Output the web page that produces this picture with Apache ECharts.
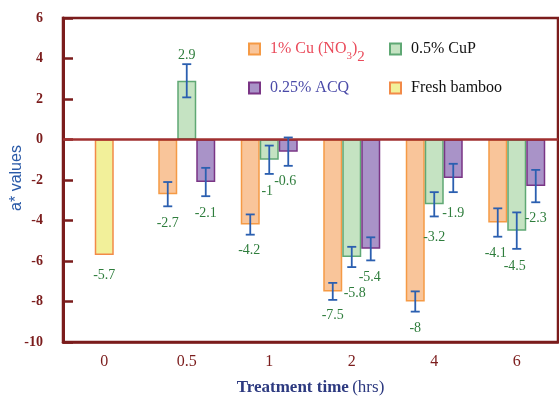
<!DOCTYPE html>
<html>
<head>
<meta charset="utf-8">
<script src="https://cdn.jsdelivr.net/npm/echarts@6/dist/echarts.min.js"></script>
<style>
  html, body { margin: 0; padding: 0; background: #fff; }
  #main { width: 559px; height: 402px; }
</style>
</head>
<body>
<div id="main"></div>
<script>
// treatment time categories
const categories = ['0', '0.5', '1', '2', '4', '6'];

// a* values, '-' = no bar
const cuNO3 = ['-', -2.7, -4.2, -7.5, -8, -4.1];
const cuNO3Err = [0, 0.6, 0.5, 0.42, 0.5, 0.7];
const cuP = ['-', 2.9, -1, -5.8, -3.2, -4.5];
const cuPErr = [0, 0.82, 0.7, 0.5, 0.6, 0.9];
const acq = ['-', -2.1, -0.6, -5.4, -1.9, -2.3];
const acqErr = [0, 0.7, 0.7, 0.57, 0.7, 0.8];
const fresh = [-5.7, '-', '-', '-', '-', '-'];
const freshErr = [0, 0, 0, 0, 0, 0];

// label offsets from bar end (px)
const cuNO3Off = [null, [0, 29], [-1, 26], [0, 24], [0, 27], [-2, 31]];
const cuPOff = [null, [0, -25], [-2, 32], [3, 36], [0, 33], [-2, 36]];
const acqOff = [null, [0, 31], [-3, 30], [-1, 28], [0, 35], [0, 32]];
const freshOff = [[0, 20], null, null, null, null, null];

const BAR_W = 19;
const AXIS = '#7b1c1c';
const SERIF = '"Liberation Serif", "Times New Roman", serif';

const chart = echarts.init(document.getElementById('main'));

function errData(vals, errs, offs) {
  const out = [];
  vals.forEach((v, i) => {
    if (v === '-') return;
    out.push([i, v, errs[i], offs[i][0], offs[i][1]]);
  });
  return out;
}

function errSeries(vals, errs, offs, slot) {
  return {
    type: 'custom',
    z: 5,
    silent: true,
    data: errData(vals, errs, offs),
    encode: { x: 0, y: 1 },
    renderItem: function (params, api) {
      const c = api.value(0), v = api.value(1), e = api.value(2);
      const p = api.coord([c, v]);
      const x = p[0] + slot * BAR_W;
      const kids = [];
      if (e > 0) {
        const hi = api.coord([c, v + e])[1];
        const lo = api.coord([c, v - e])[1];
        const st = { stroke: '#2b5fb0', lineWidth: 1.8 };
        kids.push({ type: 'line', shape: { x1: x, y1: hi, x2: x, y2: lo }, style: st });
        kids.push({ type: 'line', shape: { x1: x - 4.5, y1: hi, x2: x + 4.5, y2: hi }, style: st });
        kids.push({ type: 'line', shape: { x1: x - 4.5, y1: lo, x2: x + 4.5, y2: lo }, style: st });
      }
      kids.push({
        type: 'text',
        style: {
          text: String(v),
          x: x + api.value(3),
          y: p[1] + api.value(4),
          fill: '#2e7d3c',
          font: '14px ' + SERIF,
          textAlign: 'center',
          textVerticalAlign: 'middle'
        }
      });
      return { type: 'group', children: kids };
    }
  };
}

function legendAt(name, left, top, color, fmt) {
  return {
    data: [name],
    left: left,
    top: top,
    padding: 0,
    icon: 'rect',
    itemWidth: 11,
    itemHeight: 11,
    selectedMode: false,
    formatter: fmt || '{name}',
    textStyle: {
      color: color,
      fontFamily: SERIF,
      fontSize: 16,
      padding: [0, 0, 0, 5],
      rich: {
        s3: { color: color, fontFamily: SERIF, fontSize: 11, lineHeight: 22, verticalAlign: 'bottom', padding: [0, 0, -2, 0] },
        s2: { color: color, fontFamily: SERIF, fontSize: 15, lineHeight: 22, verticalAlign: 'bottom', padding: [0, 0, -5, 0] }
      }
    }
  };
}

const option = {
  animation: false,
  grid: {
    left: 63, right: 1, top: 18, bottom: 60,
    outerBoundsMode: 'none',
    containLabel: false,
    show: true, borderColor: AXIS, borderWidth: 2.5
  },
  // y axis title
  graphic: [{
    type: 'text',
    x: 17,
    y: 178,
    rotation: Math.PI / 2,
    style: {
      text: 'a* values',
      fill: '#2a5aa8',
      font: '16px "Liberation Sans", Arial, sans-serif',
      textAlign: 'center',
      textVerticalAlign: 'middle'
    }
  }],
  legend: [
    legendAt('1% Cu (NO3)2', 248, 41, '#ea4a5a', function () { return '1% Cu (NO{s3|3}){s2|2}'; }),
    legendAt('0.5% CuP', 389, 41, '#111'),
    legendAt('0.25% ACQ', 248, 80, '#4a4aa8'),
    legendAt('Fresh bamboo', 389, 80, '#111')
  ],
  xAxis: {
    type: 'category',
    data: categories,
    name: '{b|Treatment time} {r|(hrs)}',
    nameLocation: 'middle',
    nameGap: 37,
    nameTextStyle: {
      rich: {
        b: { fontFamily: SERIF, fontSize: 17, fontWeight: 'bold', color: '#2d3a80' },
        r: { fontFamily: SERIF, fontSize: 17, color: '#2d3a80' }
      }
    },
    axisLine: { onZero: false, lineStyle: { color: AXIS, width: 2.5 } },
    axisTick: { inside: true, alignWithLabel: true, length: 13, lineStyle: { color: AXIS, width: 2.5 } },
    axisLabel: { color: AXIS, fontFamily: SERIF, fontSize: 16, margin: 12 },
    splitLine: { show: false }
  },
  yAxis: {
    type: 'value',
    min: -10, max: 6, interval: 2,
    axisLine: { show: true, lineStyle: { color: AXIS, width: 3 } },
    axisTick: { show: true, inside: true, length: 10, lineStyle: { color: AXIS, width: 2.5 } },
    axisLabel: { color: AXIS, fontFamily: SERIF, fontSize: 14, fontWeight: 'bold', margin: 20 },
    splitLine: { show: false }
  },
  series: [
    {
      name: '1% Cu (NO3)2', type: 'bar', data: cuNO3, barWidth: BAR_W, barGap: '0%',
      itemStyle: { color: '#f9c59a', borderColor: '#f59a45', borderWidth: 1.5 },
      markLine: {
        silent: true, symbol: 'none', label: { show: false },
        lineStyle: { color: '#a03030', width: 2.5, type: 'solid' },
        data: [{ yAxis: 0 }]
      }
    },
    {
      name: '0.5% CuP', type: 'bar', stack: 'mid', data: cuP, barWidth: BAR_W, barGap: '0%',
      itemStyle: { color: '#c5e3c2', borderColor: '#5fa874', borderWidth: 1.5 }
    },
    {
      name: '0.25% ACQ', type: 'bar', data: acq, barWidth: BAR_W, barGap: '0%',
      itemStyle: { color: '#a993c8', borderColor: '#7a3585', borderWidth: 1.5 }
    },
    {
      name: 'Fresh bamboo', type: 'bar', stack: 'mid', data: fresh, barWidth: BAR_W, barGap: '0%',
      itemStyle: { color: '#f2f09a', borderColor: '#f28a48', borderWidth: 1.5 }
    },
    errSeries(cuNO3, cuNO3Err, cuNO3Off, -1),
    errSeries(cuP, cuPErr, cuPOff, 0),
    errSeries(acq, acqErr, acqOff, 1),
    errSeries(fresh, freshErr, freshOff, 0)
  ]
};

chart.setOption(option);
</script>
</body>
</html>
